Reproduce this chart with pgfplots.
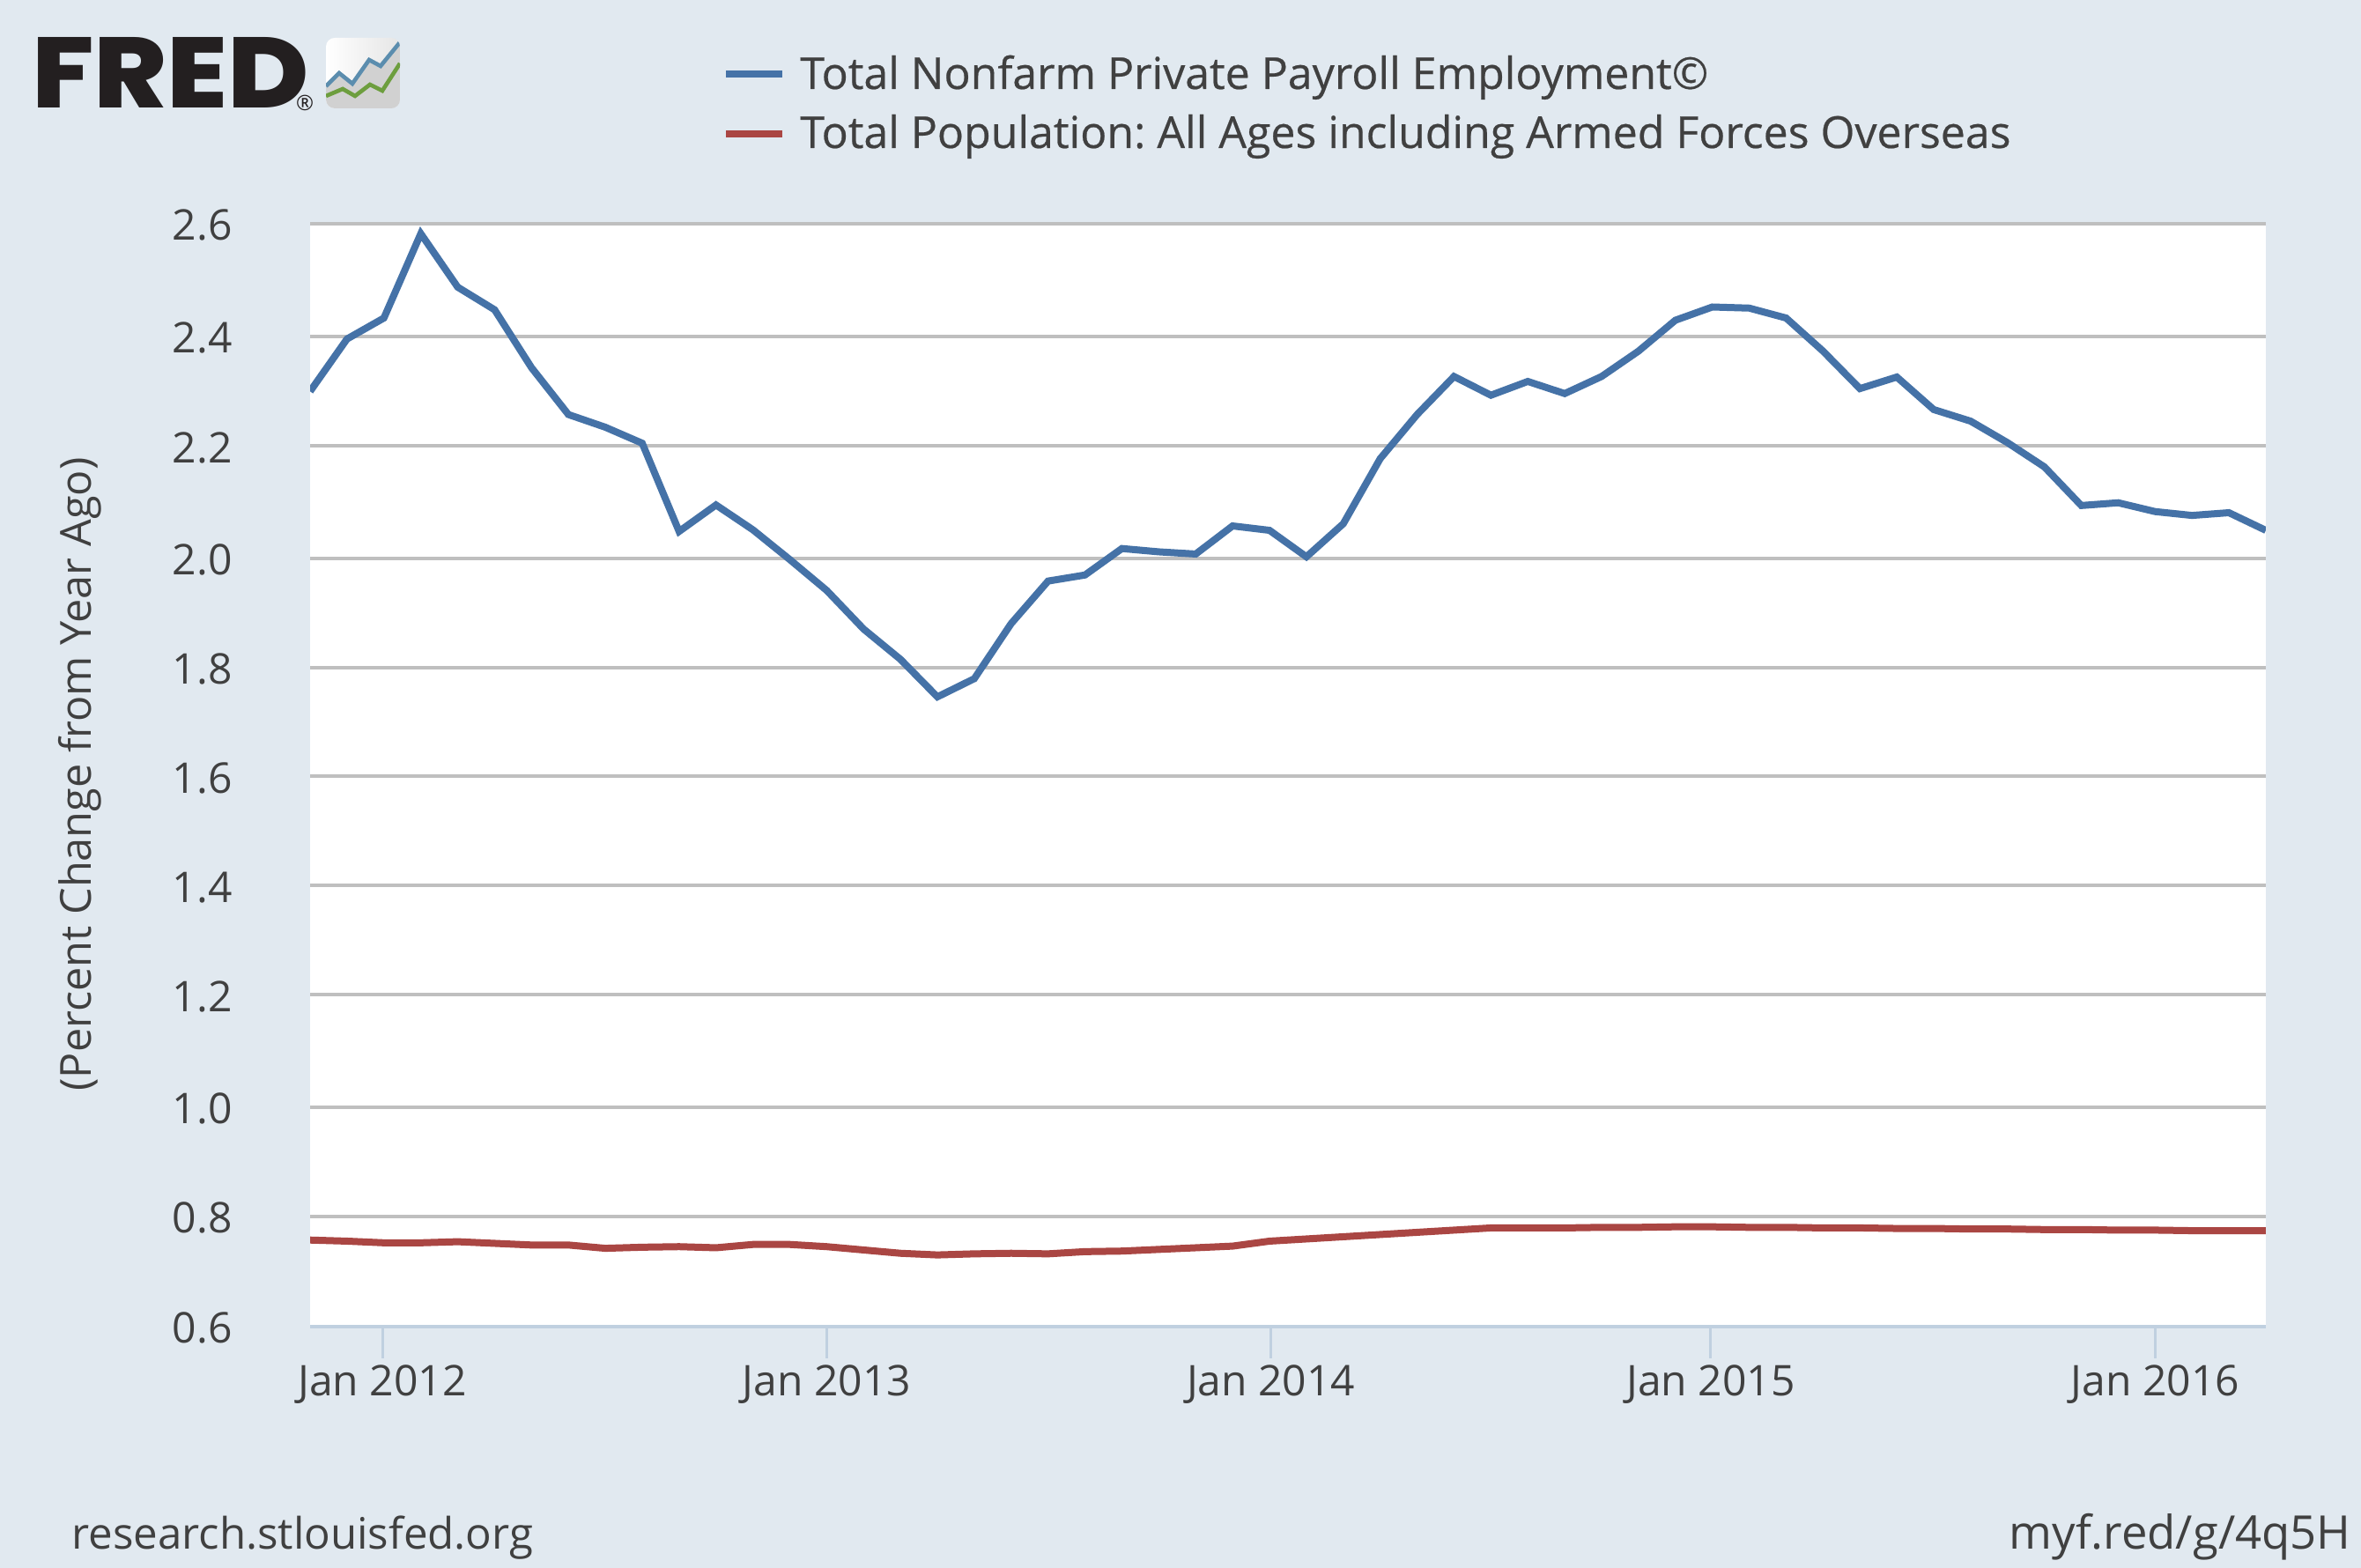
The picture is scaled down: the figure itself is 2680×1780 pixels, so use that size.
\documentclass[border=0pt]{standalone}
\usepackage{fontspec}
\setmainfont{Open Sans}
\newfontfamily\legendfont{Open Sans}[FakeBold=0.45]
\newfontfamily\logofont{Poppins}[UprightFont=* ExtraBold]
\usepackage{pgfplots}
\usepackage{pgfplotstable}
\pgfplotsset{compat=1.18}
\usetikzlibrary{shadings}

\definecolor{fredbg}{HTML}{E1E9F0}
\definecolor{fredblue}{HTML}{4572A7}
\definecolor{fredred}{HTML}{AA4643}
\definecolor{fredgrid}{HTML}{BFBFBF}
\definecolor{fredaxis}{HTML}{C0D0E0}
\definecolor{fredtext}{HTML}{404040}
\definecolor{logoblack}{HTML}{231F20}
\definecolor{logoblue}{HTML}{5B8DAE}
\definecolor{logogreen}{HTML}{6D9E3E}

% month index, Nov 2011 = 0
\pgfplotstableread{
m val
0 2.296
1 2.391
2 2.429
3 2.582
4 2.485
5 2.444
6 2.339
7 2.254
8 2.231
9 2.202
10 2.042
11 2.090
12 2.045
13 1.991
14 1.935
15 1.865
16 1.810
17 1.742
18 1.775
19 1.875
20 1.952
21 1.963
22 2.011
23 2.005
24 2.001
25 2.052
26 2.044
27 1.996
28 2.056
29 2.174
30 2.254
31 2.323
32 2.289
33 2.314
34 2.292
35 2.323
36 2.369
37 2.425
38 2.449
39 2.447
40 2.429
41 2.369
42 2.301
43 2.322
44 2.263
45 2.242
46 2.203
47 2.159
48 2.089
49 2.094
50 2.078
51 2.071
52 2.076
53 2.044
}\payroll

\pgfplotstableread{
m val
0 0.757
1 0.755
2 0.752
3 0.752
4 0.754
5 0.751
6 0.748
7 0.748
8 0.742
9 0.744
10 0.745
11 0.743
12 0.749
13 0.749
14 0.745
15 0.739
16 0.733
17 0.730
18 0.732
19 0.733
20 0.732
21 0.736
22 0.737
23 0.740
24 0.743
25 0.746
26 0.755
27 0.759
28 0.763
29 0.767
30 0.771
31 0.775
32 0.779
33 0.779
34 0.779
35 0.780
36 0.780
37 0.781
38 0.781
39 0.780
40 0.780
41 0.779
42 0.779
43 0.778
44 0.778
45 0.777
46 0.777
47 0.776
48 0.776
49 0.775
50 0.775
51 0.774
52 0.774
53 0.774
}\population

\begin{document}
\frenchspacing
\begin{tikzpicture}[x=0.5pt,y=0.5pt]
  \fill[fredbg] (0,0) rectangle (2680,1780);
  \useasboundingbox (0,0) rectangle (2680,1780);

  \begin{axis}[
      at={(176pt,137pt)}, anchor=south west,
      scale only axis, width=1110pt, height=626pt,
      xmin=0, xmax=53, ymin=0.6, ymax=2.6,
      axis background/.style={fill=white},
      axis lines*=left,
      axis line style={-, line width=2pt, fredaxis},
      y axis line style={draw=none},
      xtick={1.96,14,26.04,37.96,50},
      xticklabels={Jan 2012,Jan 2013,Jan 2014,Jan 2015,Jan 2016},
      xtick align=outside,
      major tick length=18pt,
      x tick style={line width=1.5pt, fredaxis},
      % the reference's gridlines sit on whole source pixels, so not quite evenly
      ytick={0.6,0.8,0.998,1.202,1.400,1.598,1.795,1.993,2.197,2.396,2.6},
      yticklabels={0.6,0.8,1.0,1.2,1.4,1.6,1.8,2.0,2.2,2.4,2.6},
      y tick style={draw=none},
      ymajorgrids,
      y grid style={line width=2pt, fredgrid},
      xticklabel style={font=\fontsize{24}{28}\selectfont, text=fredtext, inner sep=0pt, anchor=base, yshift=-21.5pt},
      yticklabel style={font=\fontsize{24}{28}\selectfont, text=fredtext, inner sep=0pt, anchor=base east, xshift=-44pt, yshift=-9.5pt},
    ]
    \addplot[fredblue, line width=4pt, miter limit=20] table[x=m,y=val] {\payroll};
    \addplot[fredred, line width=4pt, miter limit=20] table[x=m,y=val] {\population};
  \end{axis}

  % legend keys and entries
  \draw[fredblue, line width=4pt] (824,1696) -- (888,1696);
  \draw[fredred, line width=4pt] (824,1628) -- (888,1628);
  \node[anchor=base west, inner sep=0pt, text=fredtext, font=\legendfont\fontsize{25}{30}\selectfont] at (908,1679) {Total Nonfarm Private Payroll Employment©};
  \node[anchor=base west, inner sep=0pt, text=fredtext, font=\legendfont\fontsize{25}{30}\selectfont] at (908,1612) {Total Population: All Ages including Armed Forces Overseas};

  % axis title, footer
  \node[rotate=90, inner sep=0pt, text=fredtext, font=\fontsize{24.3}{28}\selectfont] at (90.5,901) {(Percent Change from Year Ago)};
  \node[anchor=base west, inner sep=0pt, text=fredtext, font=\fontsize{24.6}{28}\selectfont] at (81,21) {research.stlouisfed.org};
  \node[anchor=base east, inner sep=0pt, text=fredtext, font=\fontsize{26.3}{28}\selectfont] at (2669,21) {myf.red/g/4q5H};

  % logo
  \node[anchor=base west, inner sep=0pt, text=logoblack] at (35.6,1657) {\resizebox{157.7pt}{40pt}{\logofont FRED}};
  \node[anchor=center, inner sep=0pt, text=logoblack, font=\fontsize{12}{14}\selectfont] at (346,1663) {®};
  \begin{scope}
    \clip[rounded corners=5pt] (370,1657) rectangle (454,1737);
    \shade[left color=white, right color=black!10] (370,1657) rectangle (454,1737);
    \fill[black!18] (370,1682) -- (385,1697) -- (400,1685) -- (419,1712) -- (432,1705) -- (454,1732) -- (454,1657) -- (370,1657) -- cycle;
    \draw[logoblue, line width=2.3pt] (370,1682) -- (385,1697) -- (400,1685) -- (419,1712) -- (432,1705) -- (454,1732);
    \draw[logogreen, line width=2.3pt] (370,1671) -- (389,1679) -- (403,1671) -- (420,1684) -- (434,1677) -- (454,1708);
  \end{scope}
\end{tikzpicture}
\end{document}
